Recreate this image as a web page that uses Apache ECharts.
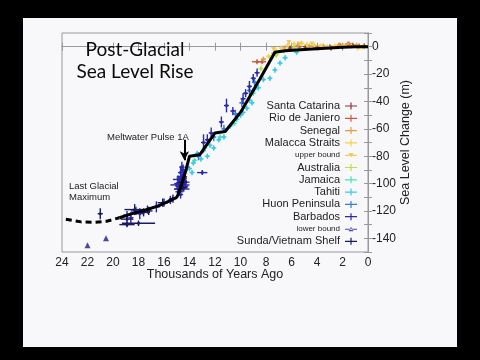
<!DOCTYPE html>
<html><head><meta charset="utf-8">
<script src="https://cdn.jsdelivr.net/npm/echarts@6/dist/echarts.min.js"></script>
<style>html,body{margin:0;padding:0;background:#000;}#c{width:480px;height:360px;}</style>
</head><body><div id="c"></div>
<script>
// ---- data: [thousand years ago, sea level (m), x error, y error]
const xTicks = [24,22,20,18,16,14,12,10,8,6,4,2,0];
const yTickLabels = [0,-20,-40,-60,-80,-100,-120,-140];
const curveX = [19.5,18.5,17.5,16.5,15.5,15.0,14.9,14.6,14.3,14.0,13.2,12.0,11.2,10.0,8.5,7.3,6.5,5,4,3,2,1,0];
const curveY = [-125,-122,-119.5,-116.5,-112.5,-110,-108,-100,-91,-80,-79,-63,-62,-48,-24,-4,-3,-2,-1.5,-1,-0.5,0,0];
const dashX = [23.7,22.5,21.5,20.5,19.5];
const dashY = [-126,-128,-128.3,-127.5,-125];
const santaCatarina = [[6.1,-1,0.2,1],[4.9,0,0.2,1],[3.8,-0.5,0.2,1],[2.9,-1,0.2,1],[2.0,0,0.2,1],[1.2,1,0.2,1],[0.3,0.5,0.2,1.5]];
const rioDeJaniero = [[8.7,-11,0.4,1],[8.3,-11,0.3,1],[5.4,0,0.2,1],[4.1,-0.5,0.2,1],[3.0,0,0.2,1],[2.2,1,0.2,1],[1.5,2,0.3,1],[0.7,0.5,0.2,1]];
const senegal = [[8.2,-9,0.2,1],[7.4,-5,0.2,1],[6.6,-1,0.2,1],[5.5,1,0.2,1],[4.6,0.5,0.2,1],[3.5,0.5,0.2,1],[2.3,1,0.2,1],[1.6,2,0.2,1],[0.9,1,0.2,1]];
const malacca = [[7.8,-7,0.1,1],[7.2,-3,0.1,1],[6.8,-1,0.1,1],[6.3,1,0.1,1],[5.8,2,0.1,1],[5.2,2.5,0.1,1],[4.8,1.5,0.1,1],[4.2,1,0.1,1],[3.7,0.5,0.1,1],[3.2,0,0.1,1],[2.6,0.5,0.1,1],[1.9,1,0.1,1],[1.3,0.5,0.1,1],[0.8,-1,0.1,1],[0.4,0,0.1,1]];
const upperBound = [[6.2,3],[5.4,2],[4.4,2],[7.4,-2]];
const australia = [[8.4,-16,0.1,2],[7.6,-8,0.1,2],[7.2,-6,0.1,2],[6.6,-3,0.1,2],[5.8,-1,0.1,2]];
const jamaica = [[13.6,-83,0.1,2],[12.8,-74,0.1,2],[11.6,-66,0.1,2],[10.5,-56,0.1,2],[9.0,-34,0.1,2]];
const tahiti = [[14.0,-89,0.1,2],[13.8,-92,0.1,2],[13.7,-85,0.1,2],[13.4,-78,0.1,2],[13.1,-82,0.1,2],[12.9,-76,0.1,2],[12.6,-80,0.1,2],[12.4,-72,0.1,2],[12.1,-74,0.1,2],[11.7,-68,0.1,2],[11.3,-66,0.1,2],[10.8,-58,0.1,2],[10.3,-53,0.1,2],[10.0,-50,0.1,2],[9.8,-48,0.1,2],[9.5,-45,0.1,2],[9.3,-39,0.1,2],[9.1,-41,0.1,2],[8.9,-31,0.1,2],[8.6,-30,0.1,2],[8.2,-24,0.1,2],[7.7,-23,0.1,2],[7.3,-17,0.1,2],[6.9,-12,0.1,2],[6.5,-8,0.1,2],[5.6,-4,0.1,2]];
const huon = [[14.2,-88,0.2,3],[13.3,-80,0.2,3],[12.1,-66,0.2,3],[11.3,-60,0.2,3],[10.4,-49,0.2,3],[9.9,-41,0.2,3],[9.3,-32,0.2,3],[8.9,-26,0.2,3]];
const barbados = [[18.9,-123,0.3,3],[18.6,-125,0.2,4],[18.2,-120,0.4,3],[17.9,-122,0.3,4],[17.3,-119,0.2,3],[16.6,-117,0.3,4],[16.0,-114,0.2,3],[15.5,-112,0.2,3],
  [14.9,-104,0.3,4],[14.8,-100,0.4,3],[14.7,-96,0.3,5],[14.6,-102,0.5,3],[14.5,-98,0.3,4],[14.7,-92,0.2,5],[14.6,-88,0.2,4],[14.4,-101,0.4,3],[14.8,-106,0.3,3],[14.5,-94,0.2,3],[14.6,-104,0.6,2],[14.9,-97,0.4,3],[14.3,-99,0.3,3],[14.7,-108,0.2,3],
  [14.55,-100,0.3,4],[14.65,-97,0.2,3],[14.45,-103,0.3,3],[14.75,-102,0.2,4],[14.5,-90,0.1,4],[14.6,-95,0.4,2],[15.0,-101,0.5,2],[14.4,-96,0.2,3],
  [13.0,-92,0.4,1],[12.9,-70,0.1,6],[12.6,-68,0.1,4],[12.3,-63,0.1,4],[11.5,-55,0.1,4],[11.1,-43,0.1,5],[10.6,-47,0.1,3],[9.8,-38,0.1,4],[9.6,-34,0.1,3],[9.3,-29,0.1,4],[9.0,-23,0.1,3],[8.7,-19,0.1,3]];
const lowerBound = [[22.0,-145],[20.55,-140]];
const sunda = [[21.0,-122,0.2,4],[18.9,-130,0.6,2],[18.0,-129,1.3,2],[18.9,-126,0.5,3],[18.3,-119,0.8,4],[17.6,-121,0.5,3],[17.2,-120,0.3,3],[16.1,-114,0.4,3],[15.3,-111,0.3,3],[14.6,-99,0.4,3],[14.5,-103,0.3,2]];

const names = ['Santa Catarina','Rio de Janiero','Senegal','Malacca Straits','upper bound','Australia','Jamaica','Tahiti','Huon Peninsula','Barbados','lower bound','Sunda/Vietnam Shelf'];
const colors = ['#8a3b2c','#c85a3c','#e89a4a','#f2d34a','#e8c040','#b6e04c','#4ee0b8','#3cc8e6','#3a7bd5','#2a2aa8','#1e1e80','#1a1a60'];

const plusIcon = 'path://M0,3.4H12V4.6H0Z M5.4,0.5H6.6V7.5H5.4Z';

function crossRender(params, api) {
  const x = api.value(0), y = api.value(1), ex = api.value(2), ey = api.value(3);
  const c = api.coord([x, y]);
  const a = api.coord([x + ex, y]), b = api.coord([x - ex, y]);
  const t = api.coord([x, y + ey]), d = api.coord([x, y - ey]);
  const hx = Math.max(2.5, Math.abs(b[0] - a[0]) / 2);
  const hy = Math.max(2.5, Math.abs(d[1] - t[1]) / 2);
  const col = api.visual('color');
  const st = {stroke: col, lineWidth: 1.4};
  return {type: 'group', children: [
    {type: 'line', shape: {x1: c[0] - hx, y1: c[1], x2: c[0] + hx, y2: c[1]}, style: st},
    {type: 'line', shape: {x1: c[0], y1: c[1] - hy, x2: c[0], y2: c[1] + hy}, style: st},
    {type: 'circle', shape: {cx: c[0], cy: c[1], r: 1.5}, style: {fill: col}}
  ]};
}

function crossSeries(name, data, color) {
  return {name, type: 'custom', renderItem: crossRender, data, itemStyle: {color},
    encode: {x: 0, y: 1}, z: 3, clip: true};
}

const series = [
  crossSeries(names[0], santaCatarina, colors[0]),
  crossSeries(names[1], rioDeJaniero, colors[1]),
  crossSeries(names[2], senegal, colors[2]),
  crossSeries(names[3], malacca, colors[3]),
  {name: names[4], type: 'scatter', data: upperBound, symbol: 'triangle', symbolRotate: 180, symbolSize: 5, itemStyle: {color: colors[4]}, z: 3},
  crossSeries(names[5], australia, colors[5]),
  crossSeries(names[6], jamaica, colors[6]),
  crossSeries(names[7], tahiti, colors[7]),
  crossSeries(names[8], huon, colors[8]),
  crossSeries(names[9], barbados, colors[9]),
  {name: names[10], type: 'scatter', data: lowerBound, symbol: 'triangle', symbolSize: 6, itemStyle: {color: colors[10]}, z: 3},
  crossSeries(names[11], sunda, colors[11]),
  {name: 'curve', type: 'line', data: curveX.map((v, i) => [v, curveY[i]]), showSymbol: false, symbol: 'none',
    lineStyle: {color: '#000', width: 3}, z: 5, silent: true,
    markLine: {silent: true, symbol: ['none', 'arrow'], symbolSize: [7, 9], label: {show: false},
      lineStyle: {color: '#000', width: 2, type: 'solid'},
      data: [[{coord: [14.4, -68]}, {coord: [14.4, -83]}]]}},
  {name: 'dash', type: 'line', data: dashX.map((v, i) => [v, dashY[i]]), showSymbol: false, symbol: 'none',
    lineStyle: {color: '#000', width: 3, type: [6, 4]}, z: 5, silent: true}
];

const legendData = names.map((n, i) => {
  const small = (n === 'upper bound' || n === 'lower bound');
  const o = {name: n, icon: plusIcon, textStyle: {fontSize: small ? 8 : 11, lineHeight: 12}};
  if (n === 'upper bound') o.icon = 'path://M0,3.4H12V4.6H0Z M3.5,1.5H8.5L6,6Z';
  if (n === 'lower bound') o.icon = 'path://M0,3.4H12V4.6H0Z M3.5,6H8.5L6,1.5Z';
  return o;
});

const chart = echarts.init(document.getElementById('c'), null, {renderer: 'canvas'});
chart.setOption({
  backgroundColor: '#000',
  animation: false,
  graphic: [
    {type: 'rect', left: 23, top: 18, shape: {width: 434, height: 329}, style: {fill: '#f8f8fa'}, z: -10},
    {type: 'text', x: 135, y: 50, style: {text: 'Post-Glacial', fontSize: 19, fontFamily: 'Lato', fill: '#0a0a0a', textAlign: 'center', textVerticalAlign: 'middle'}, z: 10},
    {type: 'text', x: 135, y: 72, style: {text: 'Sea Level Rise', fontSize: 19, fontFamily: 'Lato', fill: '#0a0a0a', textAlign: 'center', textVerticalAlign: 'middle'}, z: 10},
    {type: 'text', x: 107, y: 137, style: {text: 'Meltwater Pulse 1A', fontSize: 9.5, fontFamily: 'Liberation Sans', fill: '#222', textVerticalAlign: 'middle'}, z: 10},
    {type: 'text', x: 69, y: 186, style: {text: 'Last Glacial', fontSize: 9.5, fontFamily: 'Liberation Sans', fill: '#222', textVerticalAlign: 'middle'}, z: 10},
    {type: 'text', x: 69, y: 197, style: {text: 'Maximum', fontSize: 9.5, fontFamily: 'Liberation Sans', fill: '#222', textVerticalAlign: 'middle'}, z: 10}
  ],
  grid: {left: 62, right: 112, top: 33, bottom: 108, show: true, borderColor: '#999', borderWidth: 1, backgroundColor: 'transparent'},
  legend: {
    orient: 'vertical', align: 'right', right: 118, top: 95,
    itemWidth: 12, itemHeight: 8, itemGap: 0.3,
    textStyle: {fontFamily: 'Liberation Sans', color: '#222', fontSize: 11},
    data: legendData
  },
  xAxis: [
    {type: 'value', min: 0, max: 24, interval: 2, inverse: true, position: 'bottom',
      axisLine: {show: true, lineStyle: {color: '#999'}},
      axisTick: {show: true, inside: true, length: 4, lineStyle: {color: '#999'}},
      splitLine: {show: false},
      axisLabel: {fontSize: 12, fontFamily: 'Liberation Sans', color: '#222', margin: 5},
      name: 'Thousands of Years Ago', nameLocation: 'middle', nameGap: 16, nameMoveOverlap: false,
      nameTextStyle: {fontSize: 12.5, fontFamily: 'Liberation Sans', color: '#222'}},
    {type: 'value', min: 0, max: 24, interval: 2, inverse: true, position: 'top',
      axisLine: {show: true, lineStyle: {color: '#999'}},
      axisTick: {show: true, inside: true, length: 4, lineStyle: {color: '#999'}},
      splitLine: {show: false}, axisLabel: {show: false}}
  ],
  yAxis: [
    {type: 'value', min: -150, max: 10, interval: 10, position: 'right',
      axisLine: {show: true, lineStyle: {color: '#999'}},
      axisTick: {show: true, inside: true, length: 4, lineStyle: {color: '#999'}},
      splitLine: {show: false},
      axisLabel: {fontSize: 12, fontFamily: 'Liberation Sans', color: '#222', margin: 4,
        formatter: v => (yTickLabels.indexOf(v) >= 0 ? String(v) : '')},
      name: 'Sea Level Change (m)', nameLocation: 'middle', nameGap: 31, nameRotate: 90, nameMoveOverlap: false,
      nameTextStyle: {fontSize: 12.5, fontFamily: 'Liberation Sans', color: '#222'}},
    {type: 'value', min: -150, max: 10, interval: 10, position: 'left',
      axisLine: {show: true, lineStyle: {color: '#999'}},
      axisTick: {show: true, inside: true, length: 4, lineStyle: {color: '#999'}},
      splitLine: {show: false}, axisLabel: {show: false}}
  ],
  series
});
</script></body></html>
